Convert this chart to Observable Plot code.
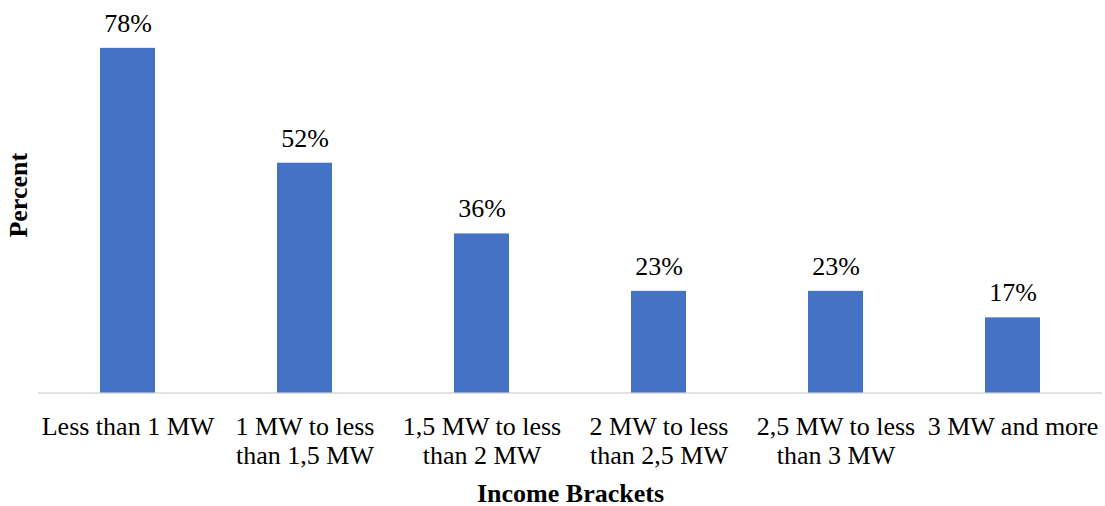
<!DOCTYPE html>
<html>
<head>
<meta charset="utf-8">
<script src="https://cdn.jsdelivr.net/npm/d3@7"></script>
<script src="https://cdn.jsdelivr.net/npm/@observablehq/plot@0.6"></script>
<style>
  html, body { margin: 0; padding: 0; background: #ffffff; }
  #chart svg { display: block; }
  #chart svg text { font-family: "Times New Roman", "Liberation Serif", serif; }
</style>
</head>
<body>
<div id="chart"></div>
<script>
// Income brackets (in minimum wages) and the percentage for each bracket
const categories = [
  "Less than 1 MW",
  "1 MW to less\nthan 1,5 MW",
  "1,5 MW to less\nthan 2 MW",
  "2 MW to less\nthan 2,5 MW",
  "2,5 MW to less\nthan 3 MW",
  "3 MW and more"
];
const percents = [78, 52, 36, 23, 23, 17];

const xTitle = "Income Brackets";
const yTitle = "Percent";

const data = categories.map((category, i) => ({category, value: percents[i]}));

const font = "'Times New Roman', 'Liberation Serif', serif";

const chart = Plot.plot({
  width: 1105,
  height: 506,
  marginLeft: 38,
  marginRight: 3,
  marginTop: 39,
  marginBottom: 113.5,
  style: {fontFamily: font, fontSize: "26px", color: "#000000", background: "#ffffff"},
  x: {domain: categories, paddingInner: 0.687, paddingOuter: 0.3435, label: null},
  y: {domain: [0, 80], axis: null},
  marks: [
    Plot.ruleY([0], {stroke: "#d9d9d9", strokeWidth: 1.5}),
    Plot.barY(data, {x: "category", y: "value", fill: "#4472C4"}),
    Plot.text(data, {
      x: "category", y: "value", text: d => `${d.value}%`,
      lineAnchor: "bottom", dy: -16.5,
      fontFamily: font, fontSize: 26, fill: "#000000"
    }),
    Plot.axisX({
      tickSize: 0, tickPadding: 22, lineHeight: 1.1,
      fontFamily: font, fontSize: 26, fill: "#000000", label: null
    }),
    Plot.text([xTitle], {
      frameAnchor: "bottom", textAnchor: "middle", lineAnchor: "bottom", dy: 108.5,
      fontFamily: font, fontWeight: "bold", fontSize: 26, fill: "#000000"
    }),
    Plot.text([yTitle], {
      frameAnchor: "left", textAnchor: "middle", lineAnchor: "middle",
      rotate: -90, dx: -20, dy: -21,
      fontFamily: font, fontWeight: "bold", fontSize: 26, fill: "#000000"
    })
  ]
});

document.getElementById("chart").append(chart);
</script>
</body>
</html>
